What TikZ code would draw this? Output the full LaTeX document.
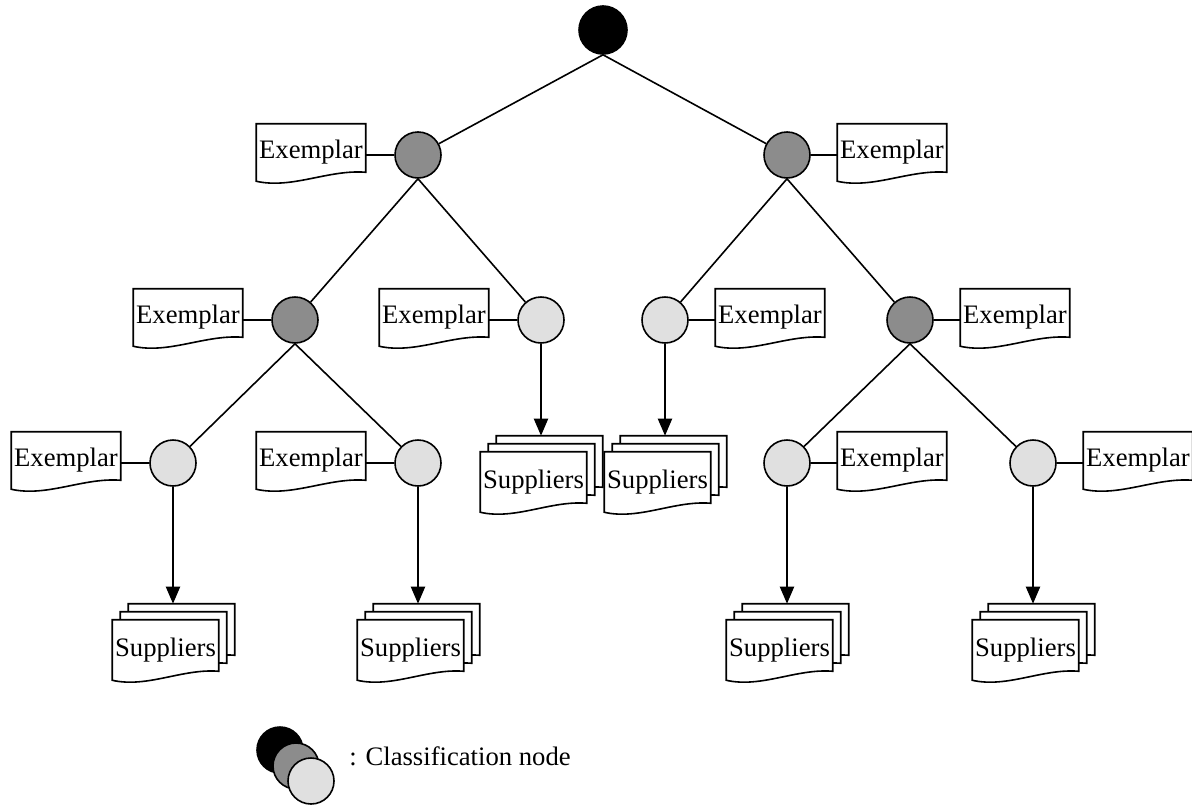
\documentclass[tikz,border=0pt]{standalone}
\usepackage{fontspec}
\setmainfont{Liberation Serif}
\usetikzlibrary{arrows.meta,calc}
\pgfdeclarelayer{bg}
\pgfsetlayers{bg,main}
\newcommand\docfont{\fontsize{20}{24}\selectfont}
\definecolor{midgray}{HTML}{8C8C8C}
\definecolor{lightgray}{HTML}{E0E0E0}
\tikzset{
  cnode/.style={circle, draw=black, line width=1.2pt, minimum size=46*0.75pt, inner sep=0pt},
  exdoc/.style={rectangle, inner sep=0pt, minimum width=109*0.75pt, minimum height=57*0.75pt, font=\docfont},
  supdoc/.style={rectangle, inner sep=0pt, minimum width=106*0.75pt, minimum height=60*0.75pt, font=\docfont},
  docline/.style={draw=black, fill=white, line width=1.2pt, line join=miter},
  edge/.style={line width=1.2pt},
  arr/.style={line width=1.5pt, -{Triangle[width=14*0.75pt,length=17*0.75pt]}},
}
\newcommand\docoutline[1]{%
  \begin{pgfonlayer}{bg}
  \path[docline] (#1.north west) -- (#1.north east) -- ($(#1.south east)+(0,-9)$)
    .. controls ($(#1.south west)!0.66!(#1.south east)+(0,-12)$) and ($(#1.south west)!0.33!(#1.south east)+(0,8)$) .. (#1.south west) -- cycle;
  \end{pgfonlayer}}
\newcommand\supstack[3]{%
  \node[supdoc] (#1b) at (#2+8.5,#3+30) {};
  \node[supdoc] (#1m) at (#2+0.5,#3+38) {};
  \node[supdoc] (#1f) at (#2-7.5,#3+46) {Suppliers};
  \docoutline{#1b}\docoutline{#1m}\docoutline{#1f}}
\begin{document}
\begin{tikzpicture}[x=0.75pt,y=-0.75pt]
\useasboundingbox (0,0) rectangle (1192,807);
% classification nodes
\node[cnode, fill=black, minimum size=48*0.75pt] (root) at (603,30) {};
\node[cnode, fill=midgray] (g1L) at (418,155) {};
\node[cnode, fill=midgray] (g1R) at (787,155) {};
\node[cnode, fill=midgray] (n2a) at (295,320) {};
\node[cnode, fill=lightgray] (n2b) at (541,320) {};
\node[cnode, fill=lightgray] (n2c) at (665,320) {};
\node[cnode, fill=midgray] (n2d) at (910,320) {};
\node[cnode, fill=lightgray] (n3a) at (173,463) {};
\node[cnode, fill=lightgray] (n3b) at (418,463) {};
\node[cnode, fill=lightgray] (n3c) at (787,463) {};
\node[cnode, fill=lightgray] (n3d) at (1033,463) {};
% tree edges
\draw[edge] (root.south) -- (g1L);
\draw[edge] (root.south) -- (g1R);
\draw[edge] (g1L.south) -- (n2a);
\draw[edge] (g1L.south) -- (n2b);
\draw[edge] (g1R.south) -- (n2c);
\draw[edge] (g1R.south) -- (n2d);
\draw[edge] (n2a.south) -- (n3a);
\draw[edge] (n2a.south) -- (n3b);
\draw[edge] (n2d.south) -- (n3c);
\draw[edge] (n2d.south) -- (n3d);
% exemplar documents
\node[exdoc] (e1L) at (418-107,152.5) {Exemplar}; \docoutline{e1L}
\node[exdoc] (e1R) at (787+105,152.5) {Exemplar}; \docoutline{e1R}
\node[exdoc] (e2a) at (295-107,317.5) {Exemplar}; \docoutline{e2a}
\node[exdoc] (e2b) at (541-107,317.5) {Exemplar}; \docoutline{e2b}
\node[exdoc] (e2c) at (665+105,317.5) {Exemplar}; \docoutline{e2c}
\node[exdoc] (e2d) at (910+105,317.5) {Exemplar}; \docoutline{e2d}
\node[exdoc] (e3a) at (173-107,460.5) {Exemplar}; \docoutline{e3a}
\node[exdoc] (e3b) at (418-107,460.5) {Exemplar}; \docoutline{e3b}
\node[exdoc] (e3c) at (787+105,460.5) {Exemplar}; \docoutline{e3c}
\node[exdoc] (e3d) at (1033+105,460.5) {Exemplar}; \docoutline{e3d}
\draw[edge] (e1L.east |- g1L.center) -- (g1L.west);
\draw[edge] (e1R.west |- g1R.center) -- (g1R.east);
\draw[edge] (e2a.east |- n2a.center) -- (n2a.west);
\draw[edge] (e2b.east |- n2b.center) -- (n2b.west);
\draw[edge] (e2c.west |- n2c.center) -- (n2c.east);
\draw[edge] (e2d.west |- n2d.center) -- (n2d.east);
\draw[edge] (e3a.east |- n3a.center) -- (n3a.west);
\draw[edge] (e3b.east |- n3b.center) -- (n3b.west);
\draw[edge] (e3c.west |- n3c.center) -- (n3c.east);
\draw[edge] (e3d.west |- n3d.center) -- (n3d.east);
% supplier stacks
\supstack{s2b}{541}{436}
\supstack{s2c}{665}{436}
\supstack{s3a}{173}{604}
\supstack{s3b}{418}{604}
\supstack{s3c}{787}{604}
\supstack{s3d}{1033}{604}
\draw[arr] (n2b.south) -- (n2b.south |- s2bb.north);
\draw[arr] (n2c.south) -- (n2c.south |- s2cb.north);
\draw[arr] (n3a.south) -- (n3a.south |- s3ab.north);
\draw[arr] (n3b.south) -- (n3b.south |- s3bb.north);
\draw[arr] (n3c.south) -- (n3c.south |- s3cb.north);
\draw[arr] (n3d.south) -- (n3d.south |- s3db.north);
% legend
\node[cnode, fill=black] (lg1) at (280,750) {};
\node[cnode, fill=midgray] (lg2) at (296,766) {};
\node[cnode, fill=lightgray] (lg3) at (311,781) {};
\node[anchor=base west, font=\docfont, inner sep=0pt] (lgt) at (349,765) {: Classification node};
\end{tikzpicture}
\end{document}
